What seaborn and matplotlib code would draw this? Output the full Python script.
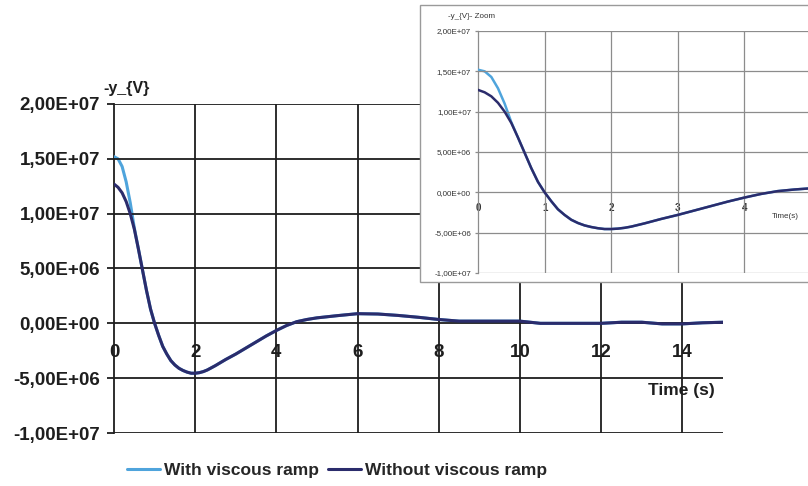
import numpy as np
import pandas as pd
import matplotlib
matplotlib.use("Agg")
import matplotlib.pyplot as plt
import matplotlib.patches as mpatches
import seaborn as sns

# ---- data (values in units of 1e6) ----
time_s = [0, 0.1, 0.2, 0.3, 0.4, 0.5, 0.6, 0.7, 0.8, 0.9, 1.0, 1.1, 1.2, 1.3,
          1.4, 1.5, 1.6, 1.7, 1.8, 1.9, 2.0, 2.1, 2.2, 2.3, 2.4, 2.5, 2.75,
          3.0, 3.25, 3.5, 3.75, 4.0, 4.25, 4.5, 4.75, 5.0, 5.5, 6.0, 6.5, 7.0,
          7.5, 8.0, 8.5, 9.0, 9.5, 10.0, 10.5, 11.0, 11.5, 12.0, 12.5, 13.0,
          13.5, 14.0, 14.5, 15.0]
without_ramp = [12.7, 12.4, 11.9, 11.1, 10.0, 8.6, 6.8, 4.9, 3.0, 1.3, 0.0,
                -1.1, -2.1, -2.8, -3.4, -3.8, -4.1, -4.3, -4.45, -4.55, -4.55,
                -4.5, -4.4, -4.25, -4.05, -3.85, -3.3, -2.8, -2.25, -1.7,
                -1.15, -0.65, -0.2, 0.15, 0.35, 0.5, 0.7, 0.88, 0.85, 0.72,
                0.55, 0.35, 0.2, 0.2, 0.2, 0.2, 0.0, 0.0, 0.0, 0.0, 0.1, 0.1,
                -0.05, -0.05, 0.05, 0.1]
with_ramp = [15.2, 15.0, 14.3, 12.9, 11.0, 8.7, 6.8, 4.9, 3.0, 1.3, 0.0,
             -1.1, -2.1, -2.8, -3.4, -3.8, -4.1, -4.3, -4.45, -4.55, -4.55,
             -4.5, -4.4, -4.25, -4.05, -3.85, -3.3, -2.8, -2.25, -1.7,
             -1.15, -0.65, -0.2, 0.15, 0.35, 0.5, 0.7, 0.88, 0.85, 0.72,
             0.55, 0.35, 0.2, 0.2, 0.2, 0.2, 0.0, 0.0, 0.0, 0.0, 0.1, 0.1,
             -0.05, -0.05, 0.05, 0.1]
series_names = ["With viscous ramp", "Without viscous ramp"]
y_ticks = [-1e7, -5e6, 0, 5e6, 1e7, 1.5e7, 2e7]
y_tick_labels = ["-1,00E+07", "-5,00E+06", "0,00E+00", "5,00E+06",
                 "1,00E+07", "1,50E+07", "2,00E+07"]
x_ticks_main = [0, 2, 4, 6, 8, 10, 12, 14]
x_ticks_zoom = [0, 1, 2, 3, 4]

df = pd.DataFrame({
    "t": time_s * 2,
    "y": [v * 1e6 for v in with_ramp] + [v * 1e6 for v in without_ramp],
    "series": [series_names[0]] * len(time_s) + [series_names[1]] * len(time_s),
})

sns.set_style("white")
plt.rcParams["font.family"] = ["Liberation Sans", "DejaVu Sans"]

colors = {series_names[0]: "#4fa4dc", series_names[1]: "#2b2c6c"}

W, H = 808, 486
fig = plt.figure(figsize=(W / 100, H / 100), dpi=100)

def fx(px):
    return px / W

def fy(py):
    return 1 - py / H

# ---- main axes ----
ax = fig.add_axes([fx(114), fy(433), fx(723) - fx(114), fy(104) - fy(433)])
ax.set_zorder(0)
for s in ["top", "right"]:
    ax.spines[s].set_visible(False)
ax.spines["bottom"].set_position(("data", 0))
ax.spines["bottom"].set_visible(False)
ax.spines["left"].set_color("#1e1e1e")
ax.spines["left"].set_linewidth(1.3)
for name in series_names:
    sub = df[df["series"] == name]
    sns.lineplot(data=sub, x="t", y="y", ax=ax, color=colors[name],
                 linewidth=2.2, label=name, legend=False)
ax.set_xlim(0, 15)
ax.set_ylim(-1e7, 2e7)
ax.set_xlabel("")
ax.set_ylabel("")
ax.set_yticks(y_ticks)
ax.set_yticklabels(y_tick_labels)
ax.set_xticks(x_ticks_main)
ax.set_xticklabels([str(v) for v in x_ticks_main])
for lab in ax.get_xticklabels() + ax.get_yticklabels():
    lab.set_fontsize(13.5)
    lab.set_fontweight("bold")
    lab.set_color("#1e1e1e")
for yv in y_ticks:
    ax.axhline(yv, color="#1e1e1e", lw=1.3, zorder=1)
for xv in x_ticks_main[1:]:
    ax.axvline(xv, color="#1e1e1e", lw=1.3, zorder=1)
ax.tick_params(axis="x", length=0, pad=15)
ax.tick_params(axis="y", direction="out", length=5, width=1.3, pad=5,
               color="#1e1e1e", left=True)
for ln in ax.get_lines():
    ln.set_zorder(3)
ax.get_lines()[1].set_zorder(4)

fig.text(fx(103), fy(88), "-y_{V}", fontsize=11.5, fontweight="bold",
         ha="left", va="center", color="#1e1e1e")
fig.text(fx(715), fy(390), "Time (s)", fontsize=12.5, fontweight="bold",
         ha="right", va="center", color="#1e1e1e")

handles, labels = ax.get_legend_handles_labels()
fig.legend(handles, labels, loc="center", bbox_to_anchor=(fx(337), fy(470)),
           ncol=2, frameon=False, handlelength=1.9, handletextpad=0.25,
           columnspacing=0.5, prop={"size": 12.5, "weight": "bold"})

# ---- inset box ----
box = mpatches.Rectangle((fx(420), fy(282)), fx(440), fy(5) - fy(282),
                         transform=fig.transFigure, facecolor="white",
                         edgecolor="#9a9a9a", lw=1.0, zorder=1)
fig.add_artist(box)

# ---- zoom axes ----
axz = fig.add_axes([fx(478), fy(273), fx(811) - fx(478), fy(31) - fy(273)])
axz.set_zorder(2)
for s in ["top", "right"]:
    axz.spines[s].set_visible(False)
axz.spines["bottom"].set_position(("data", 0))
axz.spines["bottom"].set_visible(False)
axz.spines["left"].set_color("#8c8c8c")
axz.spines["left"].set_linewidth(0.9)
for name in series_names:
    sub = df[df["series"] == name]
    sns.lineplot(data=sub, x="t", y="y", ax=axz, color=colors[name],
                 linewidth=1.8, legend=False)
axz.set_xlim(0, 5)
axz.set_ylim(-1e7, 2e7)
axz.set_xlabel("")
axz.set_ylabel("")
axz.set_yticks(y_ticks)
axz.set_yticklabels(y_tick_labels)
axz.set_xticks(x_ticks_zoom)
axz.set_xticklabels([str(v) for v in x_ticks_zoom])
for lab in axz.get_yticklabels():
    lab.set_fontsize(5.8)
    lab.set_color("#333333")
for lab in axz.get_xticklabels():
    lab.set_fontsize(7)
    lab.set_fontweight("bold")
    lab.set_color("#333333")
for yv in y_ticks:
    axz.axhline(yv, color="#8c8c8c", lw=0.9, zorder=1)
for xv in x_ticks_zoom[1:]:
    axz.axvline(xv, color="#8c8c8c", lw=0.9, zorder=1)
axz.tick_params(axis="x", length=0, pad=8)
axz.tick_params(axis="y", length=2, width=0.9, color="#8c8c8c", pad=3, left=True)
for ln in axz.get_lines():
    ln.set_zorder(3)
axz.get_lines()[1].set_zorder(4)

fig.text(fx(448), fy(16), "-y_{V}- Zoom", fontsize=5.8, ha="left",
         va="center", color="#333333", zorder=5)
fig.text(fx(772), fy(216), "Time(s)", fontsize=5.8, ha="left",
         va="center", color="#333333", zorder=5)

fig.savefig("out.png", dpi=100)
